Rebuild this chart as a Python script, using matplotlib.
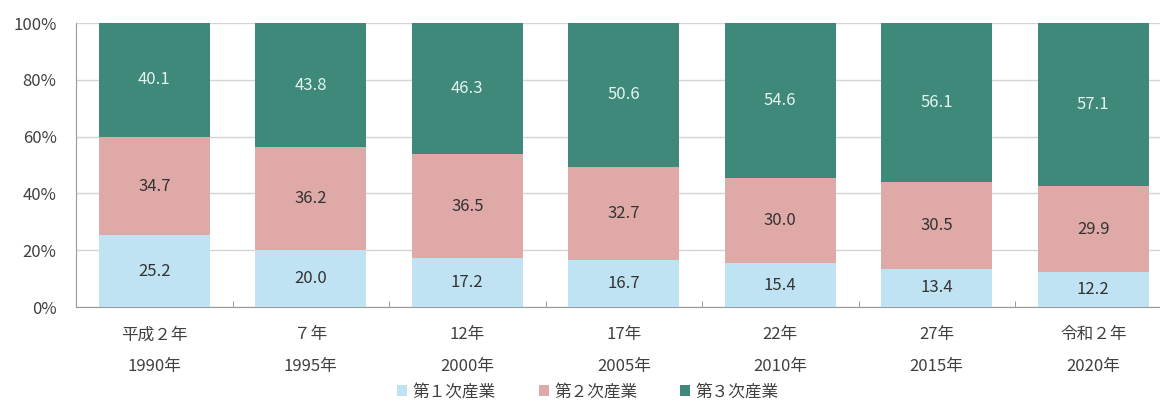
import numpy as np
import matplotlib.pyplot as plt
from matplotlib.ticker import PercentFormatter

plt.rcParams['font.family'] = ['Noto Sans CJK JP', 'DejaVu Sans']

years = ["平成２年\n1990年", "７年\n1995年", "12年\n2000年", "17年\n2005年",
         "22年\n2010年", "27年\n2015年", "令和２年\n2020年"]
primary = [25.2, 20.0, 17.2, 16.7, 15.4, 13.4, 12.2]
secondary = [34.7, 36.2, 36.5, 32.7, 30.0, 30.5, 29.9]
tertiary = [40.1, 43.8, 46.3, 50.6, 54.6, 56.1, 57.1]
names = ["第１次産業", "第２次産業", "第３次産業"]
colors = ["#bfe3f3", "#dfa9a7", "#3e8979"]
text_colors = ["#333333", "#333333", "#e6f4f0"]

series = np.array([primary, secondary, tertiary])
shares = series / series.sum(axis=0) * 100

fig = plt.figure(figsize=(11.6, 4.01), dpi=100)
ax = fig.add_axes([76 / 1160, 94 / 401, 1095.5 / 1160, 284 / 401])

x = np.arange(len(years))
bottom = np.zeros(len(years))
for i in range(3):
    bars = ax.bar(x, shares[i], 0.71, bottom=bottom, color=colors[i], label=names[i], zorder=3)
    ax.bar_label(bars, labels=[f"{v:.1f}" for v in series[i]], label_type="center",
                 color=text_colors[i], fontsize=12)
    bottom += shares[i]

ax.set_xlim(-0.5, len(years) - 0.5)
ax.set_ylim(0, 100)
ax.set_yticks(range(0, 101, 20))
ax.yaxis.set_major_formatter(PercentFormatter(decimals=0))
ax.set_xticks(x)
ax.set_xticklabels(years, linespacing=2.1)
ax.set_xticks(np.arange(0.5, len(years) - 1, 1), minor=True)
ax.tick_params(axis="x", which="major", length=0, pad=14, labelsize=12, labelcolor="#404040")
ax.tick_params(axis="x", which="minor", length=4, direction="in", color="#888888")
ax.tick_params(axis="y", length=0, pad=14, labelsize=12, labelcolor="#404040")

ax.grid(axis="y", color="#d4d4d4", linewidth=1, zorder=0)
for side in ["top", "right"]:
    ax.spines[side].set_visible(False)
ax.spines["left"].set_color("#999999")
ax.spines["bottom"].set_color("#999999")

ax.legend(loc="center", bbox_to_anchor=(588 / 1160, 9 / 401), bbox_transform=fig.transFigure,
          ncol=3, frameon=False, fontsize=12, handlelength=0.6, handleheight=0.6,
          handletextpad=0.3, columnspacing=2.6, labelcolor="#404040")

fig.savefig("out.png", dpi=100)
